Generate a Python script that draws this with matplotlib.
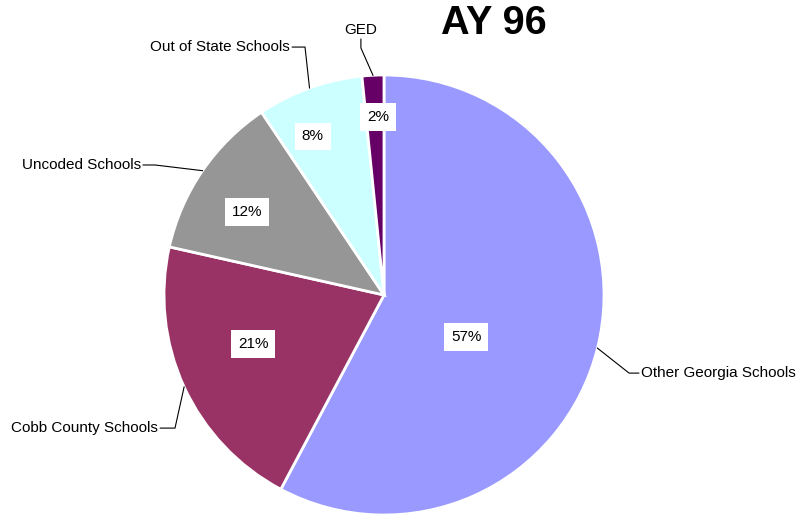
import numpy as np
import matplotlib.pyplot as plt

plt.rcParams['font.family'] = ['Liberation Sans', 'DejaVu Sans']

labels = ['Other Georgia Schools', 'Cobb County Schools', 'Uncoded Schools',
          'Out of State Schools', 'GED']
values = [57.8, 20.75, 12.1, 7.8, 1.6]
pct_text = ['57%', '21%', '12%', '8%', '2%']
colors = ['#9999FF', '#993366', '#969696', '#CCFFFF', '#660066']

# percent boxes: radius fraction and angle (deg)
pct_r = [0.42, 0.635, 0.73, 0.79, 0.81]
pct_ang = [-26.9, -159.5, 148.8, 114.2, 91.9]
# outer label anchors, elbow points and alignment
lab_xy = [(1.168, -0.355), (-1.027, -0.605), (-1.105, 0.591), (-0.427, 1.127), (-0.105, 1.205)]
elbow = [(1.114, -0.355), (-0.95, -0.605), (-1.041, 0.591), (-0.359, 1.127), (-0.105, 1.123)]
ha = ['left', 'right', 'right', 'right', 'center']

fig = plt.figure(figsize=(8.01, 5.15), dpi=100)
ax = fig.add_axes([164 / 801, 0, 440 / 801, 440 / 515])
wedges, _ = ax.pie(values, colors=colors, startangle=90, counterclock=False,
                   radius=1, wedgeprops=dict(edgecolor='white', linewidth=2))
ax.set_xlim(-1, 1)
ax.set_ylim(-1, 1)
ax.axis('off')

for i, w in enumerate(wedges):
    mid = np.deg2rad((w.theta1 + w.theta2) / 2)
    cx, cy = np.cos(mid), np.sin(mid)
    a = np.deg2rad(pct_ang[i])
    ax.text(pct_r[i] * np.cos(a), pct_r[i] * np.sin(a), pct_text[i], ha='center', va='center',
            fontsize=11, bbox=dict(boxstyle='square,pad=0.45', fc='white', ec='none'))
    ex, ey = elbow[i]
    if ha[i] == 'center':
        end = (ex, ey + 0.04)
    else:
        end = (lab_xy[i][0] + (0.01 if ha[i] == 'right' else -0.01), ey)
    ax.plot([cx, ex, end[0]], [cy, ey, end[1]], color='black', lw=0.8, clip_on=False)
    ax.text(lab_xy[i][0], lab_xy[i][1], labels[i], ha=ha[i], va='center', fontsize=11)

fig.text(494 / 801, 1 - 23 / 515, 'AY 96', ha='center', va='center',
         fontsize=28.5, fontweight='bold')

fig.savefig('out.png', dpi=100)
